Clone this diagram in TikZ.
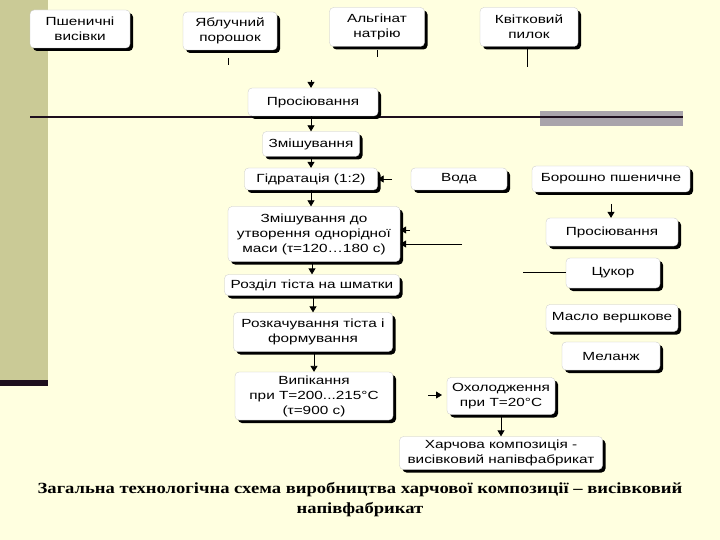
\documentclass[tikz,border=0pt]{standalone}
\usepackage{fontspec}
\setmainfont{Liberation Sans}[FakeStretch=1.3]
\newfontfamily\capfont{Liberation Serif}[FakeStretch=1.2]
\usetikzlibrary{positioning,arrows.meta,shadows}

\definecolor{slidebg}{HTML}{FFFFE0}
\definecolor{stripolive}{HTML}{CACA96}
\definecolor{bargrey}{HTML}{A9A4AB}
\definecolor{rulebrown}{HTML}{1E0F1E}

\begin{document}
\begin{tikzpicture}[x=1pt,y=-1pt,
    stage/.style={draw=gray!45, line width=0.3pt, fill=white, rounded corners=4pt, align=center,
      inner sep=1pt, font=\fontsize{11.8}{15}\selectfont,
      drop shadow={shadow xshift=3pt,shadow yshift=-3pt,opacity=1,fill=black}},
    flow/.style={-{Triangle[width=7pt,length=6pt]}, line width=0.8pt},
    tick/.style={line width=0.8pt}
  ]
  \useasboundingbox (0,0) rectangle (720,540);
  % slide template
  \fill[slidebg] (0,0) rectangle (720,540);
  \fill[stripolive] (0,0) rectangle (48,380);
  \fill[rulebrown] (0,380) rectangle (48,386);
  \fill[bargrey] (540,111) rectangle (683,126);
  \draw[rulebrown, line width=2pt] (30,117) -- (683,117);

  % raw materials
  \node[stage, minimum width=100pt, minimum height=38pt] (psh) at (80,29) {Пшеничні\\висівки};
  \node[stage, minimum width=94pt, minimum height=38pt] (yabl) at (230,31) {Яблучний\\порошок};
  \node[stage, minimum width=95pt, minimum height=39pt] (alg) at (377,27) {Альгінат\\натрію};
  \node[stage, minimum width=98pt, minimum height=39pt] (kvit) at (529,27) {Квітковий\\пилок};

  % main line
  \node[stage, minimum width=130pt, minimum height=28pt] (pros1) at (313,102) {Просіювання};
  \node[stage, minimum width=97pt, minimum height=25pt] (zmish) at (311,144) {Змішування};
  \node[stage, minimum width=133pt, minimum height=22pt] (gidr) at (311,179) {Гідратація (1:2)};
  \node[stage, minimum width=172pt, minimum height=55pt] (zmish2) at (314,234) {Змішування до\\утворення однорідної\\маси (τ=120…180 с)};
  \node[stage, minimum width=175pt, minimum height=21pt] (rozdil) at (312,285) {Розділ тіста на шматки};
  \node[stage, minimum width=159pt, minimum height=39pt] (rozkach) at (313,332) {Розкачування тіста і\\формування};
  \node[stage, minimum width=158pt, minimum height=48pt] (vyp) at (314,396) {Випікання\\при Т=200...215°С\\(τ=900 с)};

  % side line
  \node[stage, minimum width=96pt, minimum height=22pt] (voda) at (459,179) {Вода};
  \node[stage, minimum width=158pt, minimum height=26pt] (borosh) at (611,179) {Борошно пшеничне};
  \node[stage, minimum width=132pt, minimum height=28pt] (pros2) at (612,232) {Просіювання};
  \node[stage, minimum width=94pt, minimum height=30pt] (tsukor) at (613,273) {Цукор};
  \node[stage, minimum width=132pt, minimum height=27pt] (maslo) at (612,318) {Масло вершкове};
  \node[stage, minimum width=98pt, minimum height=28pt] (melanzh) at (611,356) {Меланж};

  % end
  \node[stage, minimum width=108pt, minimum height=37pt] (oxol) at (501,396) {Охолодження\\при Т=20°С};
  \node[stage, minimum width=203pt, minimum height=33pt] (kharch) at (501,453) {Харчова композиція -\\висівковий напівфабрикат};

  \node[font=\capfont\bfseries\fontsize{15.5}{20}\selectfont, align=center] (cap) at (360,500)
    {Загальна технологічна схема виробництва харчової композиції – висівковий\\напівфабрикат};

  % stubs left of the arrows
  \coordinate (y1) at (228,58);  \coordinate (y2) at (228,65);
  \coordinate (a1) at (377,50);  \coordinate (a2) at (377,57);
  \coordinate (k2) at (527,67);
  \coordinate (in1) at (311,80);
  \coordinate (w1) at (392,179);
  \coordinate (b1) at (611,204);
  \coordinate (m1) at (462,244);
  \coordinate (m2) at (410,230);
  \coordinate (c1) at (523,272);
  \coordinate (o1) at (428,395);
  \coordinate (o2) at (442,395);

  \draw[tick] (y1) -- (y2);
  \draw[tick] (a1) -- (a2);
  \draw[tick] (kvit.south -| k2) -- (k2);
  \draw[flow] (in1) -- (pros1.north -| in1);

  \draw[flow] (pros1.south -| zmish) -- (zmish);
  \draw[flow] (zmish) -- (gidr);
  \draw[flow] (gidr) -- (zmish2.north -| gidr);
  \draw[flow] (zmish2.south -| rozdil) -- (rozdil);
  \draw[flow] (rozdil.south -| rozkach) -- (rozkach);
  \draw[flow] (rozkach.south -| vyp) -- (vyp);

  \draw[flow] (w1) -- (gidr.east);
  \draw[flow] (b1) -- (pros2.north -| b1);
  \draw[flow] (m1) -- (zmish2.east |- m1);
  \draw[flow] (m2) -- (zmish2.east |- m2);
  \draw[tick] (c1) -- (tsukor.west |- c1);
  \draw[flow] (o1) -- (o2);
  \draw[flow] (oxol.south) -- (kharch.north -| oxol.south);
\end{tikzpicture}
\end{document}
